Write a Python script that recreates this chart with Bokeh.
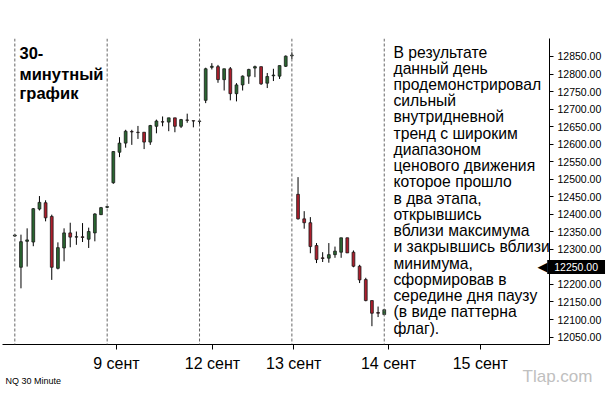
from bokeh.plotting import figure
from bokeh.models import Range1d, FixedTicker, Span, Label, PrintfTickFormatter, ColumnDataSource
from bokeh.core.properties import value
from bokeh.embed import file_html
from bokeh.resources import INLINE

# 30-minute bars (index 0 = last bar of prior session)
opens = [12338, 12249, 12323, 12321, 12415, 12433, 12394, 12246, 12304, 12347, 12335, 12336, 12329, 12347, 12399, 12420,
         12490, 12577, 12603, 12636, 12634, 12634, 12606, 12651, 12664, 12663, 12675, 12651, 12669, 12667, 12665,
         12725, 12819, 12821, 12784, 12815, 12744, 12769, 12794, 12817, 12821, 12774, 12795, 12794, 12822, 12852,
         12457, 12387, 12376, 12311, 12276, 12275, 12285, 12292, 12333, 12292, 12252, 12214, 12154, 12120, 12114]
highs = [12343, 12342, 12360, 12418, 12452, 12440, 12399, 12320, 12360, 12376, 12351, 12375, 12362, 12403, 12421, 12424,
         12580, 12620, 12641, 12641, 12652, 12634, 12655, 12670, 12679, 12675, 12675, 12672, 12687, 12667, 12670,
         12818, 12831, 12826, 12815, 12820, 12774, 12796, 12815, 12824, 12821, 12803, 12815, 12824, 12853, 12862,
         12506, 12409, 12392, 12318, 12292, 12318, 12308, 12333, 12333, 12297, 12256, 12219, 12154, 12137, 12129]
lows = [12336, 12189, 12251, 12309, 12411, 12380, 12213, 12243, 12266, 12306, 12313, 12321, 12304, 12323, 12398, 12418,
        12487, 12563, 12590, 12598, 12615, 12586, 12598, 12631, 12651, 12637, 12634, 12646, 12661, 12648, 12655,
        12717, 12813, 12775, 12753, 12725, 12722, 12753, 12772, 12791, 12769, 12760, 12780, 12786, 12820, 12843,
        12385, 12359, 12289, 12261, 12264, 12262, 12276, 12276, 12290, 12249, 12204, 12152, 12081, 12107, 12113]
closes = [12341, 12322, 12327, 12416, 12434, 12390, 12249, 12305, 12347, 12335, 12336, 12334, 12351, 12401, 12419, 12422,
          12579, 12603, 12637, 12635, 12633, 12606, 12653, 12666, 12663, 12675, 12651, 12670, 12668, 12666, 12666,
          12815, 12822, 12784, 12815, 12744, 12769, 12794, 12813, 12821, 12772, 12793, 12797, 12824, 12851, 12854,
          12387, 12376, 12308, 12271, 12274, 12285, 12295, 12333, 12290, 12252, 12213, 12154, 12118, 12118, 12128]

session_breaks = [0, 15, 30, 45, 60]
x_tick_pos = [16.5, 32.1, 45.3, 60.7, 75.6]
x_tick_labels = ["9 сент", "12 сент", "13 сент", "14 сент", "15 сент"]
y_ticks = [12050, 12100, 12150, 12200, 12250, 12300, 12350, 12400, 12450, 12500,
           12550, 12600, 12650, 12700, 12750, 12800, 12850]
last_price = 12250

title_lines = ["30-", "минутный", "график"]
note_lines = ["В результате", "данный день", "продемонстрировал", "сильный", "внутридневной",
              "тренд с широким", "диапазоном", "ценового движения", "которое прошло", "в два этапа,",
              "открывшись", "вблизи максимума", "и закрывшись вблизи", "минимума,", "сформировав в",
              "середине дня паузу", "(в виде паттерна", "флаг)."]

idx = list(range(len(opens)))
GREEN, RED = "#2a6631", "#ad1e2c"
src = ColumnDataSource(dict(
    x=idx, high=highs, low=lows,
    top=[max(o, c) for o, c in zip(opens, closes)],
    bottom=[min(o, c) for o, c in zip(opens, closes)],
    color=[GREEN if c >= o else RED for o, c in zip(opens, closes)],
))

FONT = "Liberation Sans"
p = figure(width=613, height=404, output_backend="svg", toolbar_location=None,
           x_range=Range1d(-2.0, 86.84), y_range=Range1d(12028.8, 12901.3),
           y_axis_location="right",
           min_border_left=2, min_border_right=64, min_border_top=38, min_border_bottom=60)
p.outline_line_color = None
p.grid.visible = False
p.background_fill_color = "white"
p.border_fill_color = "white"

for b in session_breaks:
    p.add_layout(Span(location=b, dimension="height", line_color="#666666",
                      line_dash="3 2", line_width=1))

p.segment(x0="x", y0="low", x1="x", y1="high", source=src, line_color="black", line_width=1)
p.vbar(x="x", width=0.45, top="top", bottom="bottom", source=src,
       fill_color="color", line_color="#1a1a1a", line_width=0.8)

xa = p.xaxis[0]
xa.ticker = FixedTicker(ticks=x_tick_pos)
xa.major_label_overrides = {t: l for t, l in zip(x_tick_pos, x_tick_labels)}
xa.major_label_text_font = FONT
xa.major_label_text_font_size = "16px"
xa.major_label_text_color = "black"
xa.major_tick_in = 0
xa.major_tick_out = 5
xa.minor_tick_out = 0
xa.minor_tick_in = 0
xa.major_label_standoff = 5
xa.axis_line_color = "black"

ya = p.yaxis[0]
ya.ticker = FixedTicker(ticks=y_ticks)
ya.formatter = PrintfTickFormatter(format="%.2f")
ya.major_label_text_font = FONT
ya.major_label_text_font_size = "10.5px"
ya.major_label_text_color = "black"
ya.major_tick_in = 0
ya.major_tick_out = 4
ya.minor_tick_out = 0
ya.minor_tick_in = 0
ya.major_label_standoff = 4
ya.axis_line_color = "black"

# title block (top-left) and explanatory note (right), one text row per line
TITLE_STEP = 53.3   # price units per title line
NOTE_STEP = 46.3    # price units per note line
p.text(x=[0.76] * len(title_lines), y=[12878 - k * TITLE_STEP for k in range(len(title_lines))],
       text=title_lines, text_font=value(FONT), text_font_style="bold",
       text_font_size="16.5px", text_baseline="top", text_color="black")
p.text(x=[61.5] * len(note_lines), y=[12887 - k * NOTE_STEP for k in range(len(note_lines))],
       text=note_lines, text_font=value(FONT),
       text_font_size="15.7px", text_baseline="top", text_color="black")

# last price marker (in a side panel so it is not clipped by the frame)
p.add_layout(Label(x=86.47, y=last_price, text="%.2f" % last_price, text_font=FONT,
                   text_font_size="10.5px", text_baseline="middle", text_color="white",
                   background_fill_color="black", padding=(7, 3)), "above")
p.add_layout(Label(x=86.5, y=last_price, text="◀", text_font="DejaVu Sans",
                   text_font_size="13px", text_baseline="middle", text_align="right",
                   text_color="black"))

p.add_layout(Label(x=-1.5, y=11923.4, text="NQ 30 Minute", text_font=FONT,
                   text_font_size="9px", text_baseline="middle", text_color="black"), "above")
p.add_layout(Label(x=82.46, y=11937.7, text="Tlap.com", text_font=FONT,
                   text_font_size="17px", text_baseline="middle", text_color="#c0c0c0"), "below")

open("out.html", "w").write(file_html(p, INLINE))
